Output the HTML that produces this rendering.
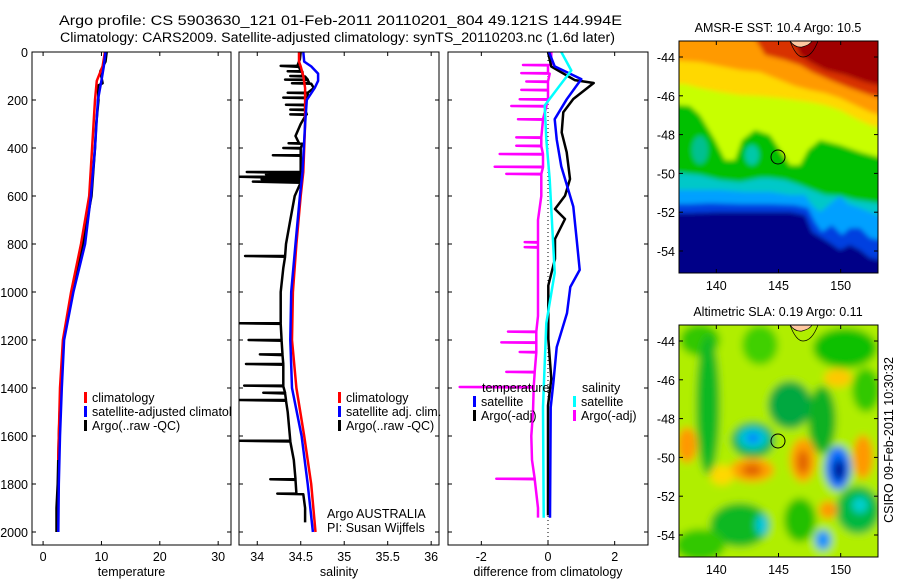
<!DOCTYPE html>
<html><head><meta charset="utf-8"><style>
html,body{margin:0;padding:0;background:#fff}
svg{display:block;font-family:"Liberation Sans",sans-serif}
</style></head><body>
<svg id="fig" width="900" height="580" viewBox="0 0 900 580" xmlns="http://www.w3.org/2000/svg">
<defs>
<filter id="bl" x="-20%" y="-20%" width="140%" height="140%"><feGaussianBlur stdDeviation="2.5"/></filter>
<filter id="bl2" x="-20%" y="-20%" width="140%" height="140%"><feGaussianBlur stdDeviation="4"/></filter>
<clipPath id="c1"><rect x="679" y="41" width="199" height="232"/></clipPath>
<clipPath id="c2"><rect x="679" y="325" width="199" height="232"/></clipPath>
</defs>
<text x="59" y="25" font-size="13.5" textLength="563" lengthAdjust="spacingAndGlyphs">Argo profile: CS 5903630_121 01-Feb-2011 20110201_804 49.121S 144.994E</text>
<text x="60" y="42" font-size="13.5" textLength="555" lengthAdjust="spacingAndGlyphs">Climatology: CARS2009. Satellite-adjusted climatology: synTS_20110203.nc (1.6d later)</text>

<g>
<g clip-path="url(#c1)" filter="url(#bl)">
<rect x="670" y="30" width="220" height="260" fill="#000088"/>
<path d="M670,30H890V262L870,258L860,250L850,245L840,250L830,243L822,238L812,232L805,215L790,212L760,212L720,212L690,213L670,213Z" fill="#0040e0"/>
<path d="M670,30H890V242L870,238L860,228L850,228L842,235L832,225L822,232L815,222L808,208L795,205L770,204L740,204L710,203L690,204L670,204Z" fill="#00a0ff"/>
<path d="M670,30H890V218L875,214L860,208L848,204L840,196L830,204L820,212L812,205L805,195L790,195L770,192L745,192L720,190L700,190L670,190Z" fill="#00c8c8"/>
<path d="M670,30H890V205L870,202L855,200L840,196L825,195L812,190L800,185L785,180L770,178L760,178L740,182L720,180L700,175L670,172Z" fill="#00c000"/>
<ellipse cx="752" cy="155" rx="7" ry="10" fill="#00c8a8"/>
<ellipse cx="700" cy="150" rx="8" ry="14" fill="#00c090"/>
<path d="M670,30H890V157L878,157L860,152L840,145L820,140L808,150L800,165L790,165L780,150L770,135L755,130L742,140L735,160L725,160L715,140L700,115L690,106L679,105L670,105Z" fill="#c8ff00"/>
<path d="M670,30H890V130L870,125L855,118L840,110L825,105L810,102L795,100L780,98L760,96L740,95L720,92L700,88L685,84L670,84Z" fill="#ffd800"/>
<path d="M670,30H890V118L870,112L855,105L840,98L825,93L810,90L795,86L780,80L760,72L740,70L720,66L700,62L670,60Z" fill="#ff9a00"/>
<path d="M750,30H890V100L870,95L850,88L830,80L812,72L800,65L785,60L765,55Z" fill="#d83000"/>
<path d="M790,30H890V88L865,82L845,75L825,70L810,62L800,55Z" fill="#a00000"/>
</g>
<path d="M790,41 Q795,48 802,47 Q810,45 812,41Z" fill="#ffc8a0" stroke="#000" stroke-width="0.7"/>
<path d="M790,41 Q796,57 803,57 Q812,57 818,41" fill="none" stroke="#000" stroke-width="0.7"/>
<circle cx="778" cy="157" r="7" fill="none" stroke="#000" stroke-width="1"/>
<rect x="679" y="41" width="199" height="232" fill="none" stroke="#000" stroke-width="1"/>
<text x="778" y="32" font-size="12.5" text-anchor="middle">AMSR-E SST: 10.4 Argo: 10.5</text>
</g>

<g>
<g clip-path="url(#c2)" filter="url(#bl2)">
<rect x="670" y="315" width="220" height="260" fill="#b0ee00"/>
<ellipse cx="700" cy="340" rx="20" ry="16" fill="#30c800"/>
<ellipse cx="760" cy="345" rx="18" ry="20" fill="#40d000"/>
<ellipse cx="845" cy="348" rx="32" ry="20" fill="#10c000"/>
<ellipse cx="866" cy="390" rx="14" ry="22" fill="#30c800"/>
<ellipse cx="708" cy="405" rx="12" ry="70" fill="#10b820"/>
<ellipse cx="790" cy="405" rx="22" ry="24" fill="#00a840"/>
<ellipse cx="822" cy="420" rx="14" ry="34" fill="#10b020"/>
<ellipse cx="740" cy="525" rx="30" ry="22" fill="#10b820"/>
<ellipse cx="700" cy="545" rx="25" ry="16" fill="#30c800"/>
<ellipse cx="858" cy="510" rx="22" ry="24" fill="#00b840"/>
<ellipse cx="800" cy="520" rx="16" ry="22" fill="#20c000"/>
<ellipse cx="753" cy="440" rx="22" ry="18" fill="#00b040"/>
<ellipse cx="838" cy="378" rx="14" ry="9" fill="#ffc800"/>
<ellipse cx="687" cy="445" rx="10" ry="18" fill="#ff9800"/>
<ellipse cx="752" cy="470" rx="22" ry="12" fill="#ffa000"/>
<ellipse cx="752" cy="470" rx="10" ry="6" fill="#e06000"/>
<ellipse cx="803" cy="460" rx="13" ry="22" fill="#ffa000"/>
<ellipse cx="803" cy="462" rx="6" ry="12" fill="#e06000"/>
<ellipse cx="863" cy="457" rx="10" ry="22" fill="#ff9800"/>
<ellipse cx="828" cy="510" rx="9" ry="9" fill="#ff9800"/>
<ellipse cx="722" cy="475" rx="12" ry="10" fill="#ffd800"/>
<ellipse cx="753" cy="438" rx="15" ry="11" fill="#00c8d8"/>
<ellipse cx="753" cy="438" rx="7" ry="5" fill="#0080ff"/>
<ellipse cx="838" cy="468" rx="13" ry="22" fill="#0070ff"/>
<ellipse cx="839" cy="470" rx="6" ry="11" fill="#000090"/>
<ellipse cx="823" cy="540" rx="8" ry="10" fill="#0090ff"/>
<ellipse cx="762" cy="525" rx="6" ry="10" fill="#00c8e0"/>
<ellipse cx="860" cy="505" rx="8" ry="8" fill="#00d0d0"/>
</g>
<path d="M790,325 Q795,332 802,331 Q810,329 812,325Z" fill="#ffc8a0" stroke="#000" stroke-width="0.7"/>
<path d="M790,325 Q796,341 803,341 Q812,341 818,325" fill="none" stroke="#000" stroke-width="0.7"/>
<circle cx="778" cy="441" r="7" fill="none" stroke="#000" stroke-width="1"/>
<rect x="679" y="325" width="199" height="232" fill="none" stroke="#000" stroke-width="1"/>
<text x="778" y="316" font-size="12.5" text-anchor="middle">Altimetric SLA: 0.19 Argo: 0.11</text>
</g>
<text transform="translate(893,440) rotate(-90)" font-size="12.5" text-anchor="middle">CSIRO 09-Feb-2011 10:30:32</text>
<g id="mapaxes"></g>
<g id="plots"></g>
</svg>
<script>
// ---------- data ----------
const depthTicks = [0,200,400,600,800,1000,1200,1400,1600,1800,2000];
const tempTicks = [0,10,20,30];
const salTicks = [34,34.5,35,35.5,36];
const diffTicks = [-2,0,2];
const lonTicks = [140,145,150];
const latTicks = [-44,-46,-48,-50,-52,-54];

const tClimDepth = [0,60,120,200,400,600,800,1000,1200,1400,1600,1700];
const tClimVal   = [10.6,10.2,9.2,8.9,8.4,7.9,6.5,4.8,3.4,2.9,2.7,2.6];
const tSatDepth  = [0,60,120,200,400,600,800,1000,1200,1400,1600,1800,2000];
const tSatVal    = [10.7,10.4,10.0,9.4,8.9,8.2,7.2,5.2,3.6,3.2,2.9,2.7,2.6];
const tArgoDepth = [0,40,80,130,140,200,300,400,600,800,1000,1200,1400,1600,1800,1900,2000];
const tArgoVal   = [10.9,10.7,9.8,10.2,9.4,9.5,9.1,8.9,8.3,6.8,4.9,3.5,3.0,2.7,2.5,2.3,2.3];

const sClimDepth = [0,40,60,100,150,200,300,500,600,800,1000,1200,1400,1600,1800,2000];
const sClimVal   = [34.48,34.48,34.5,34.53,34.55,34.55,34.55,34.53,34.5,34.45,34.41,34.4,34.45,34.54,34.62,34.67];
const sSatDepth  = [0,40,60,90,120,150,200,300,500,600,800,1000,1200,1400,1600,1800,2000];
const sSatVal    = [34.53,34.54,34.62,34.7,34.7,34.66,34.57,34.55,34.52,34.49,34.44,34.39,34.38,34.4,34.51,34.58,34.64];
const sArgoDepth = [0,30,58,58,62,80,80,82,100,100,102,115,115,117,130,130,132,150,170,170,172,190,190,192,220,220,222,240,240,242,260,260,262,300,350,380,380,382,400,400,402,430,430,432,500,500,505,510,510,512,520,520,525,530,530,532,540,540,545,560,600,700,800,850,850,853,900,1000,1130,1130,1133,1200,1200,1203,1260,1260,1263,1300,1300,1303,1390,1390,1393,1420,1420,1423,1450,1450,1453,1500,1620,1620,1623,1700,1780,1780,1783,1840,1840,1843,1900,1960];
const sArgoVal   = [34.5,34.49,34.46,34.27,34.48,34.5,34.35,34.52,34.52,34.38,34.55,34.58,34.32,34.58,34.6,34.4,34.62,34.65,34.58,34.35,34.58,34.58,34.3,34.56,34.55,34.33,34.55,34.55,34.38,34.55,34.57,34.38,34.56,34.5,34.44,34.48,34.36,34.52,34.5,34.3,34.5,34.5,34.18,34.5,34.5,33.88,34.5,34.5,34.1,34.5,34.52,33.8,34.5,34.5,34.05,34.5,34.5,33.95,34.5,34.48,34.43,34.38,34.33,34.32,33.86,34.32,34.3,34.27,34.27,33.8,34.27,34.28,33.9,34.28,34.29,34.03,34.29,34.3,33.87,34.3,34.3,33.85,34.3,34.32,34.07,34.32,34.33,33.8,34.33,34.35,34.38,33.8,34.38,34.42,34.44,34.15,34.44,34.45,34.23,34.53,34.55,34.55];

const dTSatDepth = [0,60,113,197,280,364,477,644,782,908,979,1088,1230,1381,1481,1941];
const dTSatVal   = [0.03,0.2,1.0,0.56,0.2,0.26,0.4,0.76,0.86,0.95,0.67,0.57,0.26,0.16,0.08,0.06];
const dTArgoDepth = [0,61,117,129,196,251,335,418,529,599,654,696,779,862,973,1196,1362,1473,1931];
const dTArgoVal   = [0.0,0.1,0.8,1.37,0.76,0.46,0.41,0.56,0.66,0.51,0.21,0.51,0.21,0.21,0.01,0.01,0.1,0.0,0.0];
const dSSatDepth = [0,77,140,223,364,530,920,1130,1480,1941];
const dSSatVal   = [0.4,0.7,0.35,-0.1,-0.05,0.05,0.2,-0.05,-0.15,-0.13];
const dSArgoDepth = [0,54,54,56,88,88,90,123,123,125,158,158,160,197,197,199,225,225,227,280,280,282,356,356,358,391,391,393,425,425,427,478,478,480,508,508,510,600,700,792,792,794,813,813,815,900,1000,1100,1165,1165,1167,1210,1210,1212,1250,1250,1252,1333,1333,1335,1396,1396,1398,1500,1600,1700,1778,1778,1780,1900,1940];
const dSArgoVal   = [0.1,0.1,-0.75,0.0,0.0,-0.8,0.05,0.0,-0.65,0.0,0.0,-0.8,0.0,0.0,-0.85,0.0,-0.05,-1.1,-0.05,-0.15,-0.9,-0.15,-0.2,-0.95,-0.2,-0.2,-0.95,-0.2,-0.15,-1.45,-0.15,-0.15,-1.6,-0.15,-0.2,-1.25,-0.2,-0.2,-0.3,-0.3,-0.7,-0.3,-0.3,-0.7,-0.3,-0.3,-0.3,-0.3,-0.35,-1.2,-0.35,-0.35,-1.4,-0.35,-0.35,-0.85,-0.35,-0.4,-1.25,-0.4,-0.43,-2.65,-0.43,-0.45,-0.5,-0.48,-0.4,-1.55,-0.4,-0.3,-0.3];

// ---------- drawing ----------
const NS = 'http://www.w3.org/2000/svg';
const plots = document.getElementById('plots');
const Y0 = 52, YB = 545, DMAX = (YB - Y0) / 0.24;
const yScale = d => Y0 + d / DMAX * (YB - Y0);
function mk(tag, attrs, parent) {
  const e = document.createElementNS(NS, tag);
  for (const k in attrs) e.setAttribute(k, attrs[k]);
  parent.appendChild(e);
  return e;
}
function panel(name, x0, x1, xmin, xmax, xticks, xlabel, showY) {
  const g = mk('g', {}, plots);
  
  
  const xs = v => x0 + (v - xmin) / (xmax - xmin) * (x1 - x0);
  for (const d of depthTicks) {
    const y = yScale(d);
    mk('line', {x1: x0, x2: x0 + 4, y1: y, y2: y, stroke: '#000'}, g);
    mk('line', {x1: x1 - 4, x2: x1, y1: y, y2: y, stroke: '#000'}, g);
    if (showY) {
      const t = mk('text', {x: x0 - 4, y: y + 5, 'font-size': 12.5, 'text-anchor': 'end'}, g);
      
      
      t.textContent = d;
    }
  }
  for (const v of xticks) {
    const x = xs(v);
    mk('line', {x1: x, x2: x, y1: YB, y2: YB - 4, stroke: '#000'}, g);
    mk('line', {x1: x, x2: x, y1: Y0, y2: Y0 + 4, stroke: '#000'}, g);
    const t = mk('text', {x: x, y: 561, 'font-size': 12.5, 'text-anchor': 'middle'}, g);
    
    
    t.textContent = v;
  }
  const lab = mk('text', {x: (x0 + x1) / 2, y: 576, 'font-size': 12.5, 'text-anchor': 'middle'}, g);
  
  
  lab.textContent = xlabel;
  const clip = 'cp' + name;
  const cp = mk('clipPath', {id: clip}, g);
  mk('rect', {x: x0, y: Y0, width: x1 - x0, height: YB - Y0}, cp);
  const lines = mk('g', {'clip-path': 'url(#' + clip + ')'}, g);
  mk('rect', {x: x0, y: Y0, width: x1 - x0, height: YB - Y0, fill: 'none', stroke: '#000', 'stroke-width': 1}, g);
  return {g, lines, xs};
}
function series(p, depths, vals, color, w, name) {
  const pts = depths.map((d, i) => p.xs(vals[i]).toFixed(1) + ',' + yScale(d).toFixed(1)).join(' ');
  const pl = mk('polyline', {points: pts, fill: 'none', stroke: color, 'stroke-width': w, 'stroke-linejoin': 'round'}, p.lines);
  
  
}
function legend(parent, x, y, color, text, name) {
  const g = mk('g', {}, parent);
  
  
  mk('rect', {x: x, y: y - 10, width: 3, height: 11, fill: color}, g);
  const t = mk('text', {x: x + 8, y: y, 'font-size': 12.5}, g);
  t.textContent = text;
}
function plainText(parent, x, y, s, name) {
  const t = mk('text', {x: x, y: y, 'font-size': 12.5}, parent);
  
  
  t.textContent = s;
}

// temperature panel
const p1 = panel('temperature-panel', 32, 231, -1.9, 32.2, tempTicks, 'temperature', true);
series(p1, tArgoDepth, tArgoVal, '#000', 2.5, 'temp-argo-line');
series(p1, tClimDepth, tClimVal, '#f00', 2.5, 'temp-climatology-line');
series(p1, tSatDepth, tSatVal, '#00f', 2.5, 'temp-satellite-line');
const lg1 = mk('g', {'clip-path': 'url(#cptemperature-panel)'}, p1.g);
legend(lg1, 84, 402, '#f00', 'climatology', 'legend-climatology');
legend(lg1, 84, 416, '#00f', 'satellite-adjusted climatology', 'legend-satellite-adjusted');
legend(lg1, 84, 430, '#000', 'Argo(..raw -QC)', 'legend-argo');

// salinity panel
const p2 = panel('salinity-panel', 239, 439, 33.79, 36.09, salTicks, 'salinity', false);
series(p2, sArgoDepth, sArgoVal, '#000', 2.5, 'sal-argo-line');
series(p2, sClimDepth, sClimVal, '#f00', 2.5, 'sal-climatology-line');
series(p2, sSatDepth, sSatVal, '#00f', 2.5, 'sal-satellite-line');
legend(p2.g, 338, 402, '#f00', 'climatology', 'legend-climatology');
legend(p2.g, 338, 416, '#00f', 'satellite adj. clim.', 'legend-satellite-adj');
legend(p2.g, 338, 430, '#000', 'Argo(..raw -QC)', 'legend-argo');
plainText(p2.g, 327, 518, 'Argo AUSTRALIA', 'institution-label');
plainText(p2.g, 327, 532, 'PI: Susan Wijffels', 'pi-label');

// difference panel
const p3 = panel('difference-panel', 448, 648, -3, 3, diffTicks, 'difference from climatology', false);
const zx = p3.xs(0);
mk('line', {x1: zx, x2: zx, y1: Y0, y2: YB, stroke: '#000', 'stroke-dasharray': '1,3'}, p3.lines);
series(p3, dSArgoDepth, dSArgoVal, '#f0f', 2.5, 'diff-sal-argo-line');
series(p3, dTArgoDepth, dTArgoVal, '#000', 2.5, 'diff-temp-argo-line');
series(p3, dTSatDepth, dTSatVal, '#00f', 2.5, 'diff-temp-satellite-line');
series(p3, dSSatDepth, dSSatVal, '#0ff', 2.5, 'diff-sal-satellite-line');
plainText(p3.g, 482, 392, 'temperature', 'legend-temperature-heading');
plainText(p3.g, 582, 392, 'salinity', 'legend-salinity-heading');
legend(p3.g, 473, 406, '#00f', 'satellite', 'legend-temp-satellite');
legend(p3.g, 473, 420, '#000', 'Argo(-adj)', 'legend-temp-argo');
legend(p3.g, 573, 406, '#0ff', 'satellite', 'legend-sal-satellite');
legend(p3.g, 573, 420, '#f0f', 'Argo(-adj)', 'legend-sal-argo');

// map axes
const ma = document.getElementById('mapaxes');
function mapAxes(top, bottom, lat44y) {
  const lonX = v => 679 + (v - 137) / 16 * 199;
  const latY = v => lat44y + (-44 - v) * 19.4;
  for (const v of lonTicks) {
    const x = lonX(v);
    mk('line', {x1: x, x2: x, y1: bottom, y2: bottom - 4, stroke: '#000'}, ma);
    mk('line', {x1: x, x2: x, y1: top, y2: top + 4, stroke: '#000'}, ma);
    const t = mk('text', {x: x, y: bottom + 17, 'font-size': 12.5, 'text-anchor': 'middle'}, ma);
    
    
    t.textContent = v;
  }
  for (const v of latTicks) {
    const y = latY(v);
    mk('line', {x1: 679, x2: 683, y1: y, y2: y, stroke: '#000'}, ma);
    mk('line', {x1: 874, x2: 878, y1: y, y2: y, stroke: '#000'}, ma);
    const t = mk('text', {x: 675, y: y + 5, 'font-size': 12.5, 'text-anchor': 'end'}, ma);
    
    
    t.textContent = v;
  }
}
mapAxes(41, 273, 57);
mapAxes(325, 557, 341);
</script>
</body></html>
